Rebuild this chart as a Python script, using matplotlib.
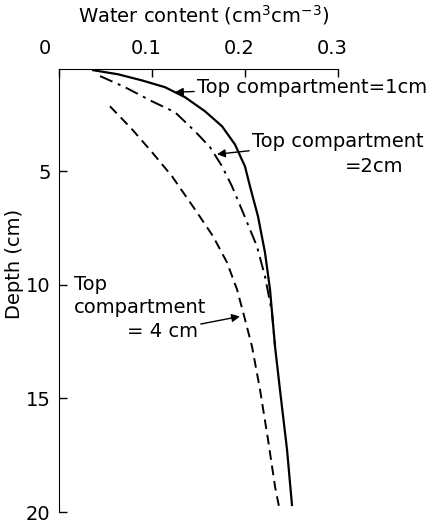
import numpy as np
import matplotlib.pyplot as plt
import matplotlib.transforms as mtransforms

plt.rcParams['font.family'] = ['DejaVu Sans']

# water content (cm3 cm-3) against depth (cm) for three top compartment sizes
depth_1cm = [0.55, 0.73, 1.00, 1.30, 1.74, 2.36, 3.02, 3.82, 4.79, 5.67, 6.99, 8.58, 10.21, 12.72, 14.62, 17.26, 19.69]
theta_1cm = [0.0366, 0.0634, 0.0892, 0.1140, 0.1355, 0.1570, 0.1753, 0.1892, 0.2000, 0.2054, 0.2140, 0.2215,
             0.2269, 0.2323, 0.2376, 0.2452, 0.2505]

depth_2cm = [0.81, 1.30, 1.92, 2.40, 3.24, 3.94, 4.78, 5.66, 6.81, 8.31, 9.63, 11.21, 12.72]
theta_2cm = [0.0441, 0.0710, 0.1000, 0.1247, 0.1462, 0.1624, 0.1753, 0.1860, 0.1978, 0.2129, 0.2215, 0.2290, 0.2323]

depth_4cm = [2.14, 3.15, 4.16, 5.22, 6.81, 7.86, 9.01, 10.20, 11.52, 12.71, 14.60, 16.80, 18.88, 19.98]
theta_4cm = [0.0548, 0.0785, 0.1000, 0.1215, 0.1484, 0.1656, 0.1806, 0.1914, 0.2000, 0.2075, 0.2161, 0.2247,
             0.2323, 0.2376]

xticks = [0, 0.1, 0.2, 0.3]
xticklabels = ['0', '0.1', '0.2', '0.3']
yticks = [5, 10, 15, 20]

fs = 14

fig = plt.figure(figsize=(4.38, 5.23), dpi=100)
ax = fig.add_axes([0.1347, 0.021, 0.637, 0.847])

ax.plot(theta_1cm, depth_1cm, color='black', lw=1.6, solid_joinstyle='round')
ax.plot(theta_2cm, depth_2cm, color='black', lw=1.4, dashes=[7, 3, 1.5, 3])
ax.plot(theta_4cm, depth_4cm, color='black', lw=1.4, dashes=[5, 3])

ax.set_xlim(0, 0.3)
ax.set_ylim(20, 0.5)

ax.spines['right'].set_visible(False)
ax.spines['bottom'].set_visible(False)
ax.xaxis.set_ticks_position('top')
ax.xaxis.set_label_position('top')
ax.set_xticks(xticks)
ax.set_xticklabels(xticklabels)
ax.set_yticks(yticks)
ax.tick_params(axis='both', direction='in', length=6, width=1, labelsize=fs)
ax.tick_params(axis='x', pad=8)
ax.tick_params(axis='y', pad=6)

# shift x tick labels a bit to the left like the original
for i, lab in enumerate(ax.get_xticklabels()):
    dx = -14 if i == 0 else -6
    lab.set_transform(lab.get_transform() + mtransforms.ScaledTranslation(dx / 100, 0, fig.dpi_scale_trans))

ax.set_xlabel('Water content (cm$^{3}$cm$^{-3}$)', fontsize=fs, labelpad=8)
ax.xaxis.set_label_coords(0.52, 1.105)
ax.set_ylabel('Depth (cm)', fontsize=fs)
ax.yaxis.set_label_coords(-0.125, 0.56)

arrow = dict(arrowstyle='-|>', color='black', lw=1, mutation_scale=12, shrinkA=0, shrinkB=0)
ax.annotate('Top compartment=1cm', xy=(0.1247, 1.52), xytext=(0.1484, 1.30),
            fontsize=fs, va='center', ha='left', arrowprops=arrow, annotation_clip=False)
ax.annotate('Top compartment', xy=(0.1699, 4.25), xytext=(0.2075, 3.68),
            fontsize=fs, va='center', ha='left', arrowprops=arrow, annotation_clip=False)
ax.text(0.3075, 4.80, '=2cm', fontsize=fs, va='center', ha='left')
ax.text(0.016, 10.0, 'Top', fontsize=fs, va='center', ha='left')
ax.text(0.016, 11.01, 'compartment', fontsize=fs, va='center', ha='left')
ax.annotate('= 4 cm', xy=(0.1946, 11.39), xytext=(0.0731, 12.05),
            fontsize=fs, va='center', ha='left', arrowprops=arrow, annotation_clip=False)

fig.savefig('out.png', dpi=100)
